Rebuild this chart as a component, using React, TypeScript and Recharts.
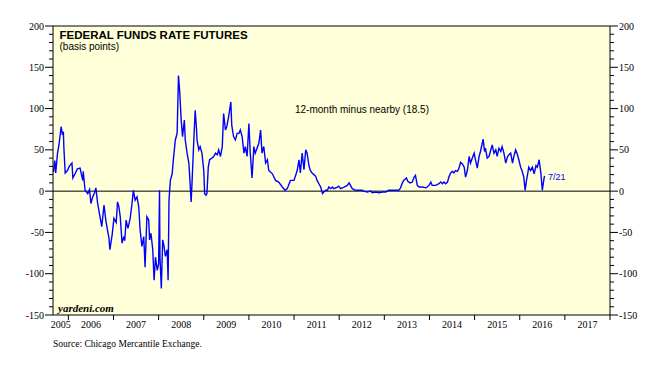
import React from 'react';
import { LineChart, Line, XAxis, YAxis, CartesianGrid, ReferenceLine } from 'recharts';

// decimal-year dates
const years = [
  2005.67, 2005.70, 2005.72, 2005.76, 2005.79, 2005.84, 2005.87, 2005.89, 2005.90, 2005.93, 2005.98,
  2006.02, 2006.08, 2006.10, 2006.15, 2006.20, 2006.26, 2006.29, 2006.32, 2006.33, 2006.37, 2006.43,
  2006.47, 2006.50, 2006.54, 2006.58, 2006.61, 2006.65, 2006.70, 2006.74, 2006.79, 2006.83, 2006.86,
  2006.90, 2006.92, 2006.97, 2007.01, 2007.06, 2007.09, 2007.12, 2007.15, 2007.19, 2007.23, 2007.25,
  2007.28, 2007.32, 2007.37, 2007.41, 2007.44, 2007.48, 2007.52, 2007.56, 2007.59, 2007.63, 2007.67,
  2007.70, 2007.74, 2007.78, 2007.80, 2007.83, 2007.87, 2007.90, 2007.93, 2007.97, 2008.00, 2008.02,
  2008.03, 2008.06, 2008.09, 2008.12, 2008.15, 2008.19, 2008.21, 2008.23, 2008.26, 2008.30, 2008.33,
  2008.37, 2008.41, 2008.44, 2008.47, 2008.50, 2008.53, 2008.57, 2008.59, 2008.63, 2008.67, 2008.69,
  2008.72, 2008.74, 2008.78, 2008.81, 2008.84, 2008.85, 2008.89, 2008.92, 2008.96, 2009.00, 2009.02,
  2009.05, 2009.07, 2009.10, 2009.13, 2009.18, 2009.22, 2009.26, 2009.30, 2009.33, 2009.37, 2009.41,
  2009.44, 2009.48, 2009.51, 2009.55, 2009.60, 2009.62, 2009.66, 2009.70, 2009.74, 2009.78, 2009.81,
  2009.85, 2009.89, 2009.92, 2009.96, 2010.00, 2010.03, 2010.07, 2010.11, 2010.14, 2010.18, 2010.22,
  2010.26, 2010.29, 2010.33, 2010.37, 2010.41, 2010.44, 2010.52, 2010.59, 2010.66, 2010.74, 2010.80,
  2010.85, 2010.92, 2011.00, 2011.07, 2011.11, 2011.14, 2011.18, 2011.22, 2011.26, 2011.29, 2011.33,
  2011.36, 2011.40, 2011.44, 2011.48, 2011.51, 2011.55, 2011.59, 2011.63, 2011.66, 2011.70, 2011.74,
  2011.77, 2011.81, 2011.85, 2011.88, 2011.96, 2011.99, 2012.03, 2012.11, 2012.18, 2012.22, 2012.25,
  2012.29, 2012.36, 2012.44, 2012.51, 2012.55, 2012.62, 2012.70, 2012.73, 2012.81, 2012.88, 2012.96,
  2013.03, 2013.10, 2013.18, 2013.25, 2013.32, 2013.36, 2013.40, 2013.43, 2013.49, 2013.52, 2013.57,
  2013.62, 2013.66, 2013.69, 2013.73, 2013.77, 2013.84, 2013.92, 2013.95, 2013.99, 2014.03, 2014.06,
  2014.14, 2014.21, 2014.25, 2014.29, 2014.32, 2014.36, 2014.40, 2014.43, 2014.47, 2014.51, 2014.54,
  2014.58, 2014.62, 2014.65, 2014.69, 2014.73, 2014.77, 2014.80, 2014.84, 2014.88, 2014.91, 2014.95,
  2014.99, 2015.02, 2015.06, 2015.10, 2015.13, 2015.17, 2015.19, 2015.22, 2015.24, 2015.28, 2015.32,
  2015.35, 2015.39, 2015.43, 2015.47, 2015.50, 2015.54, 2015.58, 2015.61, 2015.65, 2015.69, 2015.73,
  2015.76, 2015.80, 2015.84, 2015.87, 2015.91, 2015.95, 2015.98, 2016.02, 2016.05, 2016.09, 2016.12,
  2016.15, 2016.18, 2016.20, 2016.24, 2016.28, 2016.32, 2016.36, 2016.39, 2016.43, 2016.47, 2016.50,
  2016.54, 2016.55,
];

// 12-month minus nearby, basis points
const spread = [
  23, 37, 22, 46, 55, 78, 68, 72, 54, 22, 25,
  30, 34, 16, 21, 27, 28, 20, 13, 24, 1, -3,
  2, -15, -7, -2, 4, -15, -31, -43, -17, -35, -45,
  -57, -71, -53, -33, -38, -13, -19, -31, -63, -55, -60,
  -35, -45, -33, -15, 1, -11, -7, -19, -47, -67, -55,
  -92, -31, -35, -59, -51, -71, -108, -80, -96, -88, 1,
  -80, -118, -59, -67, -79, -71, -108, -11, 13, 21, 40,
  62, 70, 140, 118, 86, 66, 86, 62, 46, 34, 17,
  -13, 10, 62, 98, 75, 62, 50, 54, 46, 25, -3,
  -5, -3, 29, 38, 40, 42, 46, 44, 50, 42, 54,
  94, 74, 78, 90, 108, 80, 66, 62, 70, 70, 74,
  66, 46, 54, 42, 82, 46, 16, 54, 46, 52, 58,
  74, 46, 54, 34, 38, 25, 21, 13, 11, 5, 1,
  3, 13, 13, 25, 38, 22, 46, 26, 50, 46, 31,
  25, 22, 20, 18, 13, 9, 5, -3, -1, 1, 1,
  5, 3, 5, 3, 5, 6, 3, 5, 7, 10, 7,
  3, 1, 1, 1, 0, -1, 0, -2, -1, -2, -1,
  -1, 1, 1, 1, 1, 4, 10, 13, 16, 12, 10,
  11, 17, 19, 7, 5, 5, 4, 5, 7, 11, 7,
  7, 9, 11, 9, 11, 9, 11, 17, 22, 24, 22,
  25, 24, 27, 35, 33, 29, 17, 25, 42, 34, 40,
  46, 38, 28, 42, 48, 58, 63, 48, 52, 40, 42,
  48, 56, 46, 50, 42, 52, 48, 54, 46, 34, 42,
  44, 46, 34, 42, 50, 44, 38, 29, 25, 17, 1,
  13, 22, 29, 25, 29, 21, 31, 29, 38, 21, 1,
  16, 18.5,
];

const yearTicks = [2006, 2007, 2008, 2009, 2010, 2011, 2012, 2013, 2014, 2015, 2016, 2017, 2018];
const yTicks = [
  -150, -140, -130, -120, -110, -100, -90, -80, -70, -60, -50, -40, -30, -20, -10,
  0, 10, 20, 30, 40, 50, 60, 70, 80, 90, 100, 110, 120, 130, 140, 150, 160, 170, 180, 190, 200,
];

const data = years.map((t, i) => ({ t, v: spread[i] }));

const W = 670;
const H = 368;
const PLOT_LEFT = 53;
const PLOT_RIGHT = 610;
const PLOT_TOP = 26;
const PLOT_BOTTOM = 315;
const X_MIN = 2005.66;
const X_MAX = 2018;
const PX_PER_YEAR = (PLOT_RIGHT - PLOT_LEFT) / (X_MAX - X_MIN);

const serif = '"Liberation Serif", "Times New Roman", serif';
const sans = '"Liberation Sans", Arial, sans-serif';

const XTick = (props: any) => {
  const { x, y, payload } = props;
  const v = payload.value as number;
  const isStart = v < 2006;
  const span = isStart ? 2006 - X_MIN : 1;
  return (
    <g>
      {!isStart && <line x1={x} y1={y} x2={x} y2={y + 5} stroke="#000" strokeWidth={1} />}
      {v < X_MAX && (
        <text x={x + (span * PX_PER_YEAR) / 2} y={y + 13} textAnchor="middle" fontFamily={serif} fontSize={10} fill="#000">
          {Math.floor(v)}
        </text>
      )}
    </g>
  );
};

const LeftTick = (props: any) => {
  const { x, y, payload } = props;
  const v = payload.value as number;
  const major = v % 50 === 0;
  return (
    <g>
      <line x1={x} y1={y} x2={x - (major ? 8 : 4)} y2={y} stroke="#000" strokeWidth={1} />
      {major && (
        <text x={x - 9} y={y} dy="0.35em" textAnchor="end" fontFamily={serif} fontSize={10} fill="#000">
          {v}
        </text>
      )}
    </g>
  );
};

const RightTick = (props: any) => {
  const { x, y, payload } = props;
  const v = payload.value as number;
  const major = v % 50 === 0;
  return (
    <g>
      <line x1={x} y1={y} x2={x + (major ? 8 : 4)} y2={y} stroke="#000" strokeWidth={1} />
      {major && (
        <text x={x + 9} y={y} dy="0.35em" textAnchor="start" fontFamily={serif} fontSize={10} fill="#000">
          {v}
        </text>
      )}
    </g>
  );
};

export default function App() {
  return (
    <div style={{ position: 'absolute', left: 0, top: 0, width: W, height: H, background: '#fff' }}>
      <LineChart width={W} height={H} data={data} margin={{ top: PLOT_TOP, right: 0, bottom: 0, left: 0 }}>
        <CartesianGrid fill="#FFFFD9" stroke="none" horizontal={false} vertical={false} />
        <XAxis
          dataKey="t"
          type="number"
          domain={[X_MIN, X_MAX]}
          allowDataOverflow
          ticks={[X_MIN, ...yearTicks]}
          interval={0}
          tick={<XTick />}
          tickLine={false}
          tickSize={0}
          tickMargin={0}
          height={H - PLOT_BOTTOM}
          axisLine={{ stroke: '#000', strokeWidth: 1 }}
        />
        <YAxis
          yAxisId="left"
          orientation="left"
          type="number"
          domain={[-150, 200]}
          allowDataOverflow
          ticks={yTicks}
          interval={0}
          tick={<LeftTick />}
          tickLine={false}
          tickSize={0}
          tickMargin={0}
          width={PLOT_LEFT}
          axisLine={{ stroke: '#000', strokeWidth: 1 }}
        />
        <YAxis
          yAxisId="right"
          orientation="right"
          type="number"
          domain={[-150, 200]}
          allowDataOverflow
          ticks={yTicks}
          interval={0}
          tick={<RightTick />}
          tickLine={false}
          tickSize={0}
          tickMargin={0}
          width={W - PLOT_RIGHT}
          axisLine={{ stroke: '#000', strokeWidth: 1 }}
        />
        <ReferenceLine yAxisId="left" y={200} stroke="#000" strokeWidth={1} />
        <ReferenceLine yAxisId="left" y={0} stroke="#000" strokeWidth={1} />
        <Line
          yAxisId="left"
          type="linear"
          dataKey="v"
          stroke="#0000FF"
          strokeWidth={1.4}
          dot={false}
          isAnimationActive={false}
        />
      </LineChart>
      <svg width={W} height={H} style={{ position: 'absolute', left: 0, top: 0, pointerEvents: 'none' }}>
        <text x={59.5} y={39} fontFamily={sans} fontWeight="bold" fontSize={11.5} fill="#000">
          FEDERAL FUNDS RATE FUTURES
        </text>
        <text x={59.5} y={50} fontFamily={sans} fontSize={10} fill="#000">
          (basis points)
        </text>
        <text x={295} y={113} fontFamily={sans} fontSize={10} fill="#000">
          12-month minus nearby (18.5)
        </text>
        <text x={548} y={180} fontFamily={sans} fontSize={9} fill="#0000FF">
          7/21
        </text>
        <text x={58} y={311.5} fontFamily={serif} fontWeight="bold" fontStyle="italic" fontSize={11} fill="#000">
          yardeni.com
        </text>
        <text x={53} y={347} fontFamily={serif} fontSize={9.5} fill="#000">
          Source: Chicago Mercantile Exchange.
        </text>
      </svg>
    </div>
  );
}
